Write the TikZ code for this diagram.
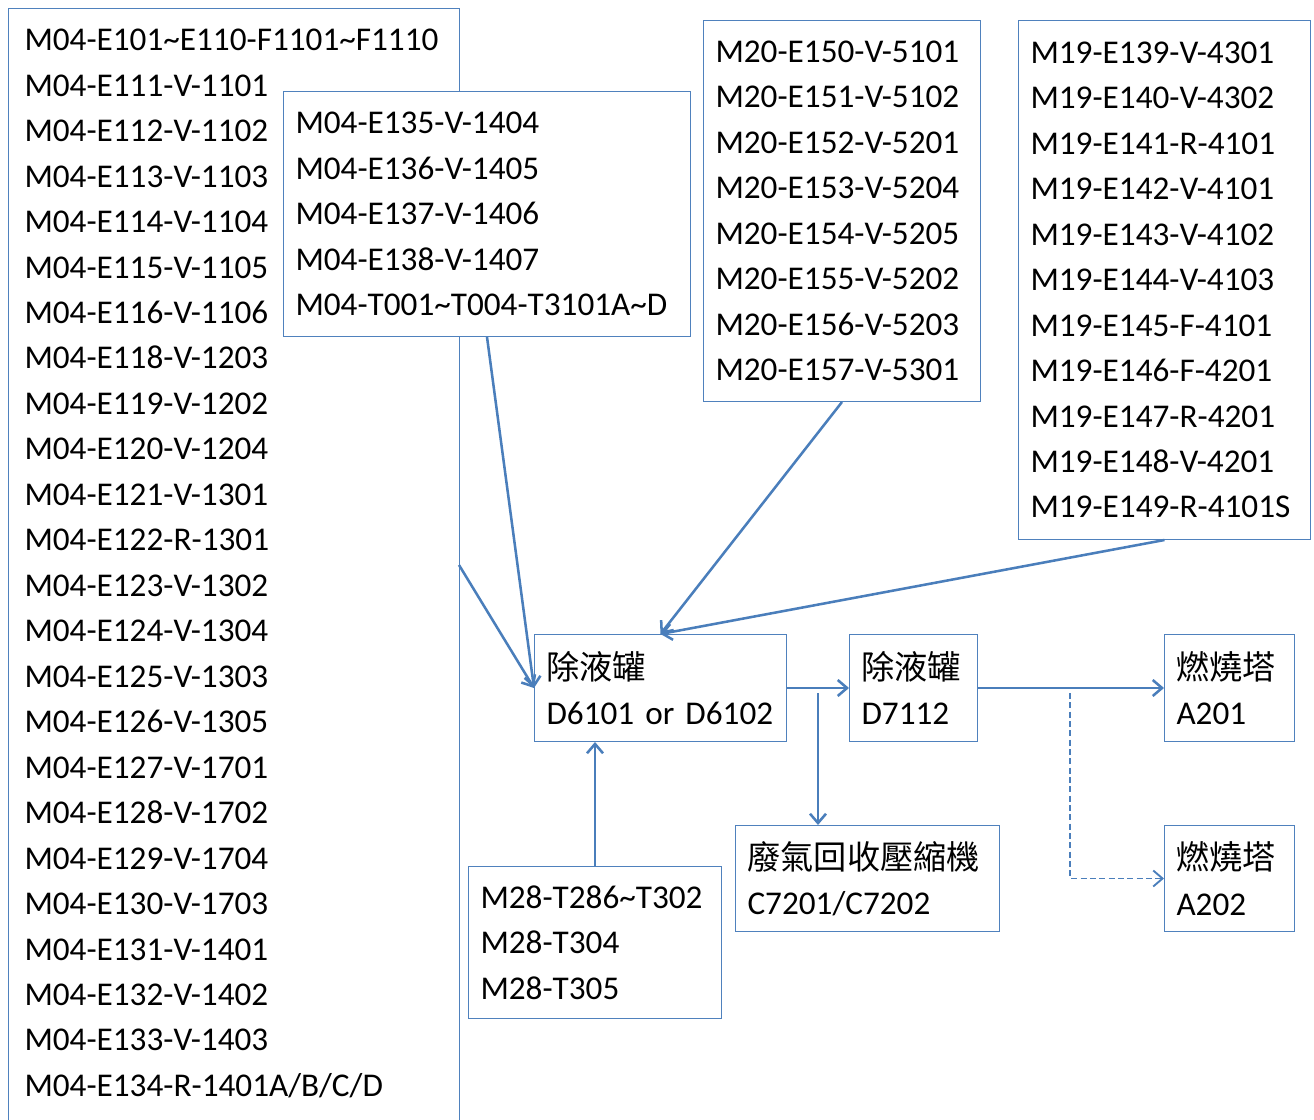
\documentclass[tikz,border=0pt]{standalone}
\usepackage{fontspec}
\setmainfont{Carlito}
\newfontfamily\cjk{Noto Sans CJK TC}
\usetikzlibrary{arrows.meta}
\definecolor{boxblue}{RGB}{79,129,189}
\definecolor{lineblue}{RGB}{74,126,187}
\newcommand\tld{\textasciitilde}
\tikzset{every picture/.style={line width=0.75pt}}
\tikzset{
  tagbox/.style={draw=boxblue, fill=white, anchor=north west, align=left, inner xsep=9pt, inner ysep=0pt, font=\fontsize{24.9}{34.1}\selectfont},
  flow/.style={draw=lineblue, line width=1.9pt, -{Straight Barb[length=7pt,width=12pt]}},
}

\begin{document}
\begin{tikzpicture}[x=0.75pt,y=0.75pt,yscale=-1,xscale=1]
\useasboundingbox (0,0) rectangle (1314,1120);

%Shape: Rectangle, left list (runs off the bottom)
\node[tagbox, minimum width=338.25pt, minimum height=900pt] (listA) at (8,8) {};
% Text Node
\node[tagbox, draw=none, fill=none, inner xsep=12pt, inner ysep=15.5pt, text width=330pt] (listAtext) at (8,8) {M04-E101\tld E110-F1101\tld F1110\\ M04-E111-V-1101\\ M04-E112-V-1102\\ M04-E113-V-1103\\ M04-E114-V-1104\\ M04-E115-V-1105\\ M04-E116-V-1106\\ M04-E118-V-1203\\ M04-E119-V-1202\\ M04-E120-V-1204\\ M04-E121-V-1301\\ M04-E122-R-1301\\ M04-E123-V-1302\\ M04-E124-V-1304\\ M04-E125-V-1303\\ M04-E126-V-1305\\ M04-E127-V-1701\\ M04-E128-V-1702\\ M04-E129-V-1704\\ M04-E130-V-1703\\ M04-E131-V-1401\\ M04-E132-V-1402\\ M04-E133-V-1403\\ M04-E134-R-1401A/B/C/D};

%Shape: Rectangle, source lists
\node[tagbox, minimum width=305.25pt, minimum height=183.75pt, text width=287.25pt] (feedB) at (283,91) {M04-E135-V-1404\\ M04-E136-V-1405\\ M04-E137-V-1406\\ M04-E138-V-1407\\ M04-T001\tld T004-T3101A\tld D};
\node[tagbox, minimum width=207.75pt, minimum height=285.75pt, text width=189.75pt] (feedC) at (703,20) {M20-E150-V-5101\\ M20-E151-V-5102\\ M20-E152-V-5201\\ M20-E153-V-5204\\ M20-E154-V-5205\\ M20-E155-V-5202\\ M20-E156-V-5203\\ M20-E157-V-5301};
\node[tagbox, minimum width=219pt, minimum height=389.25pt, text width=201pt] (feedD) at (1018,20) {M19-E139-V-4301\\ M19-E140-V-4302\\ M19-E141-R-4101\\ M19-E142-V-4101\\ M19-E143-V-4102\\ M19-E144-V-4103\\ M19-E145-F-4101\\ M19-E146-F-4201\\ M19-E147-R-4201\\ M19-E148-V-4201\\ M19-E149-R-4101S};
\node[tagbox, minimum width=189.75pt, minimum height=114pt, text width=171.75pt] (feedE) at (468,866) {M28-T286\tld T302\\ M28-T304\\ M28-T305};

%Shape: Rectangle, drums, compressor and flares
\node[tagbox, minimum width=189pt, minimum height=80.25pt, text width=171pt] (sepA) at (534,634) {{\cjk 除液罐}\\ D6101 or D6102};
\node[tagbox, minimum width=96pt, minimum height=80.25pt, text width=78pt] (sepB) at (849,634) {{\cjk 除液罐}\\ D7112};
\node[tagbox, minimum width=97.5pt, minimum height=80.25pt, text width=79.5pt] (flareA) at (1164,634) {{\cjk 燃燒塔}\\ A201};
\node[tagbox, minimum width=97.5pt, minimum height=79.5pt, text width=79.5pt] (flareB) at (1164,825) {{\cjk 燃燒塔}\\ A202};
\node[tagbox, minimum width=197.25pt, minimum height=79.5pt, text width=180pt] (comp) at (735,825) {{\cjk 廢氣回收壓縮機}\\ C7201/C7202};

%Straight Lines
\coordinate (listAout) at (459,565);
\coordinate (tapC) at (818,693);
\coordinate (tapD) at (1070,693);
\draw[flow] (listAout) -- (sepA.west);
\draw[flow] (feedB.south) -- (sepA.west);
\draw[flow] (feedC.south) -- (sepA.north);
\draw[flow] (feedD.south) -- (sepA.north);
\draw[flow] (feedE.north) -- (feedE.north |- sepA.south);
\draw[flow] (sepA.east) -- (sepB.west);
\draw[flow] (tapC) -- (tapC |- comp.north);
\draw[flow] (sepB.east) -- (flareA.west);
\draw[flow, line width=1.4pt, dash pattern=on 4.5pt off 2.5pt] (tapD) |- (flareB.west);

\end{tikzpicture}
\end{document}
